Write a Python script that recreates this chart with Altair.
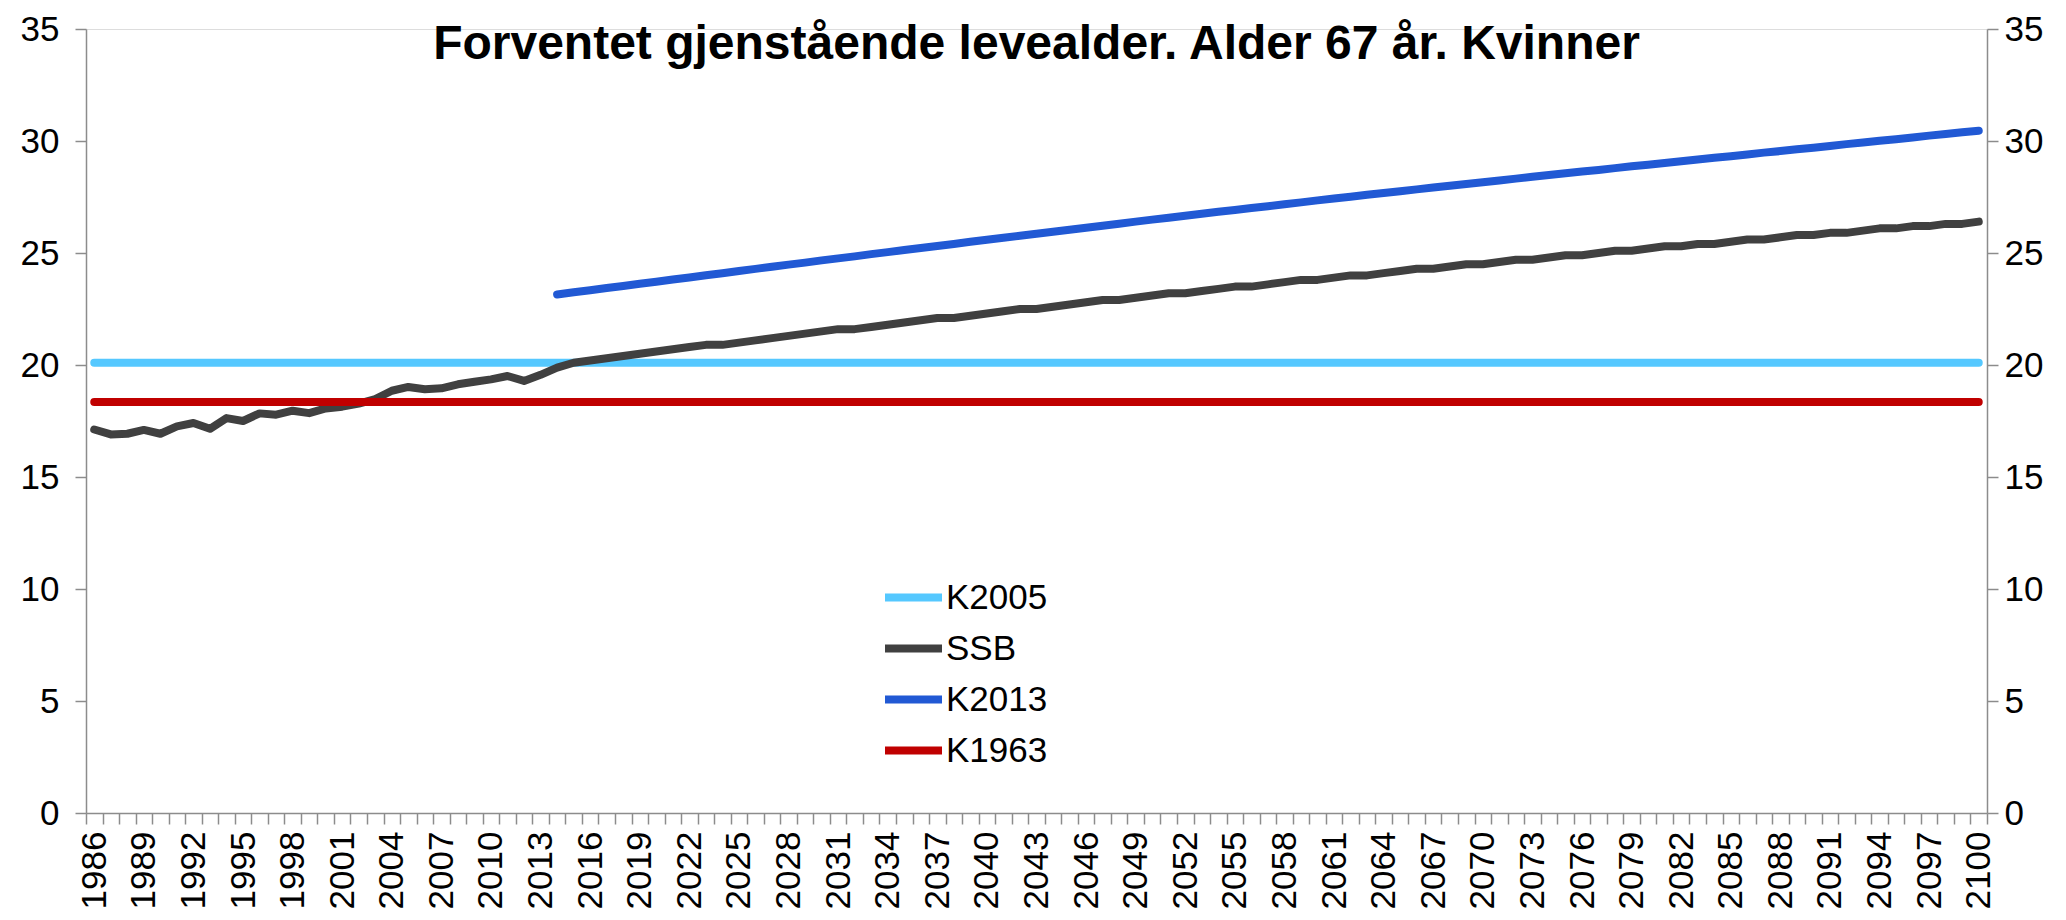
import altair as alt
import pandas as pd
import numpy as np

# ---- data ----
years = list(range(1986, 2101))

ssb = [
    17.12, 16.90, 16.93, 17.10, 16.93, 17.26, 17.41, 17.15, 17.63, 17.50,  # 1986-1995
    17.84, 17.78, 17.96, 17.85, 18.06, 18.14, 18.28, 18.48, 18.85, 19.02,  # 1996-2005
    18.92, 18.96, 19.14, 19.25, 19.36, 19.51, 19.29, 19.56, 19.88, 20.10,  # 2006-2015
    20.2, 20.3, 20.4, 20.5, 20.6, 20.7, 20.8, 20.9, 20.9, 21.0,            # 2016-2025
    21.1, 21.2, 21.3, 21.4, 21.5, 21.6, 21.6, 21.7, 21.8, 21.9,            # 2026-2035
    22.0, 22.1, 22.1, 22.2, 22.3, 22.4, 22.5, 22.5, 22.6, 22.7,            # 2036-2045
    22.8, 22.9, 22.9, 23.0, 23.1, 23.2, 23.2, 23.3, 23.4, 23.5,            # 2046-2055
    23.5, 23.6, 23.7, 23.8, 23.8, 23.9, 24.0, 24.0, 24.1, 24.2,            # 2056-2065
    24.3, 24.3, 24.4, 24.5, 24.5, 24.6, 24.7, 24.7, 24.8, 24.9,            # 2066-2075
    24.9, 25.0, 25.1, 25.1, 25.2, 25.3, 25.3, 25.4, 25.4, 25.5,            # 2076-2085
    25.6, 25.6, 25.7, 25.8, 25.8, 25.9, 25.9, 26.0, 26.1, 26.1,            # 2086-2095
    26.2, 26.2, 26.3, 26.3, 26.4,                                          # 2096-2100
]

k2013_years = list(range(2014, 2101))
k2013 = [
    23.15, 23.25, 23.34, 23.44, 23.53, 23.63, 23.72, 23.82, 23.91, 24.01,  # 2014-2023
    24.10, 24.20, 24.29, 24.39, 24.48, 24.57, 24.67, 24.76, 24.85, 24.95,  # 2024-2033
    25.04, 25.13, 25.22, 25.31, 25.40, 25.50, 25.59, 25.68, 25.77, 25.86,  # 2034-2043
    25.95, 26.04, 26.13, 26.22, 26.31, 26.40, 26.49, 26.57, 26.66, 26.75,  # 2044-2053
    26.84, 26.92, 27.01, 27.09, 27.18, 27.26, 27.35, 27.43, 27.51, 27.60,  # 2054-2063
    27.68, 27.76, 27.84, 27.92, 28.00, 28.08, 28.16, 28.24, 28.32, 28.40,  # 2064-2073
    28.48, 28.56, 28.64, 28.71, 28.79, 28.87, 28.94, 29.02, 29.10, 29.17,  # 2074-2083
    29.25, 29.32, 29.40, 29.48, 29.55, 29.63, 29.70, 29.78, 29.86, 29.93,  # 2084-2093
    30.01, 30.08, 30.16, 30.24, 30.31, 30.39, 30.46,                       # 2094-2100
]

k2005_value = 20.1
k1963_value = 18.35

series_order = ["K2005", "SSB", "K2013", "K1963"]
series_colors = ["#55C8FF", "#404040", "#2159D4", "#C00000"]

label_years = list(range(1986, 2101, 3))
y_ticks = [0, 5, 10, 15, 20, 25, 30, 35]
title_text = "Forventet gjenstående levealder. Alder 67 år. Kvinner"

# ---- table ----
rows = []
for yr in years:
    rows.append({"year": yr, "value": k2005_value, "series": "K2005"})
for yr, v in zip(years, ssb):
    rows.append({"year": yr, "value": v, "series": "SSB"})
for yr, v in zip(k2013_years, k2013):
    rows.append({"year": yr, "value": v, "series": "K2013"})
for yr in years:
    rows.append({"year": yr, "value": k1963_value, "series": "K1963"})
df = pd.DataFrame(rows)

FONT = "Liberation Sans"
AXIS_COLOR = "#8C8C8C"
half_years = [float(v) for v in np.arange(1985.5, 2101.0, 1.0)]
W, H = 1901, 784

xscale = alt.Scale(domain=[1985.5, 2100.5], nice=False, zero=False)
yscale = alt.Scale(domain=[0, 35], nice=False)

lines = alt.Chart(df).mark_line(strokeWidth=8, strokeCap="round", strokeJoin="round").encode(
    x=alt.X("year:Q", scale=xscale,
            axis=alt.Axis(orient="bottom", values=half_years, labels=False, title=None,
                          grid=False, domainColor=AXIS_COLOR, domainWidth=1.5,
                          tickColor=AXIS_COLOR, tickWidth=1.5, tickSize=11)),
    y=alt.Y("value:Q", scale=yscale,
            axis=alt.Axis(orient="left", values=y_ticks, title=None, grid=False,
                          domainColor=AXIS_COLOR, domainWidth=1.5,
                          tickColor=AXIS_COLOR, tickWidth=1.5, tickSize=11,
                          labelFont=FONT, labelFontSize=35, labelColor="#000000",
                          labelPadding=16)),
    color=alt.Color("series:N",
                    scale=alt.Scale(domain=series_order, range=series_colors),
                    sort=series_order,
                    legend=alt.Legend(orient="none", legendX=795, legendY=536,
                                      title=None, symbolType="stroke",
                                      symbolStrokeWidth=8, symbolSize=3249,
                                      labelFont=FONT, labelFontSize=35,
                                      labelColor="#000000", labelOffset=0,
                                      rowPadding=0, labelLimit=400)),
    detail="series:N",
)

aux = alt.Chart(df).mark_point(opacity=0, size=1).encode(
    x=alt.X("year:Q", scale=xscale,
            axis=alt.Axis(orient="bottom", values=label_years, format="d", title=None,
                          grid=False, domain=False, ticks=False, tickSize=0,
                          labelAngle=-90, labelFont=FONT, labelFontSize=35,
                          labelColor="#000000", labelPadding=18, labelOverlap=False,
                          labelFlush=False)),
    y=alt.Y("value:Q", scale=yscale,
            axis=alt.Axis(orient="right", values=y_ticks, title=None, grid=False,
                          domainColor=AXIS_COLOR, domainWidth=1.5,
                          tickColor=AXIS_COLOR, tickWidth=1.5, tickSize=11,
                          labelFont=FONT, labelFontSize=35, labelColor="#000000",
                          labelPadding=6)),
)

title = alt.Chart(pd.DataFrame({"t": [title_text]})).mark_text(
    font=FONT, fontSize=48, fontWeight="bold", color="#000000",
    align="center", baseline="alphabetic",
).encode(text="t:N", x=alt.value(W / 2), y=alt.value(30))

chart = alt.layer(lines, aux, title).resolve_axis(x="independent", y="independent").properties(
    width=W,
    height=H,
    autosize=alt.AutoSizeParams(type="none"),
    padding={"left": 78, "top": 21, "right": 70, "bottom": 100},
).configure_view(stroke=None).configure(background="#FFFFFF")

chart.save("out.html", embed_options={"renderer": "svg", "actions": False})
